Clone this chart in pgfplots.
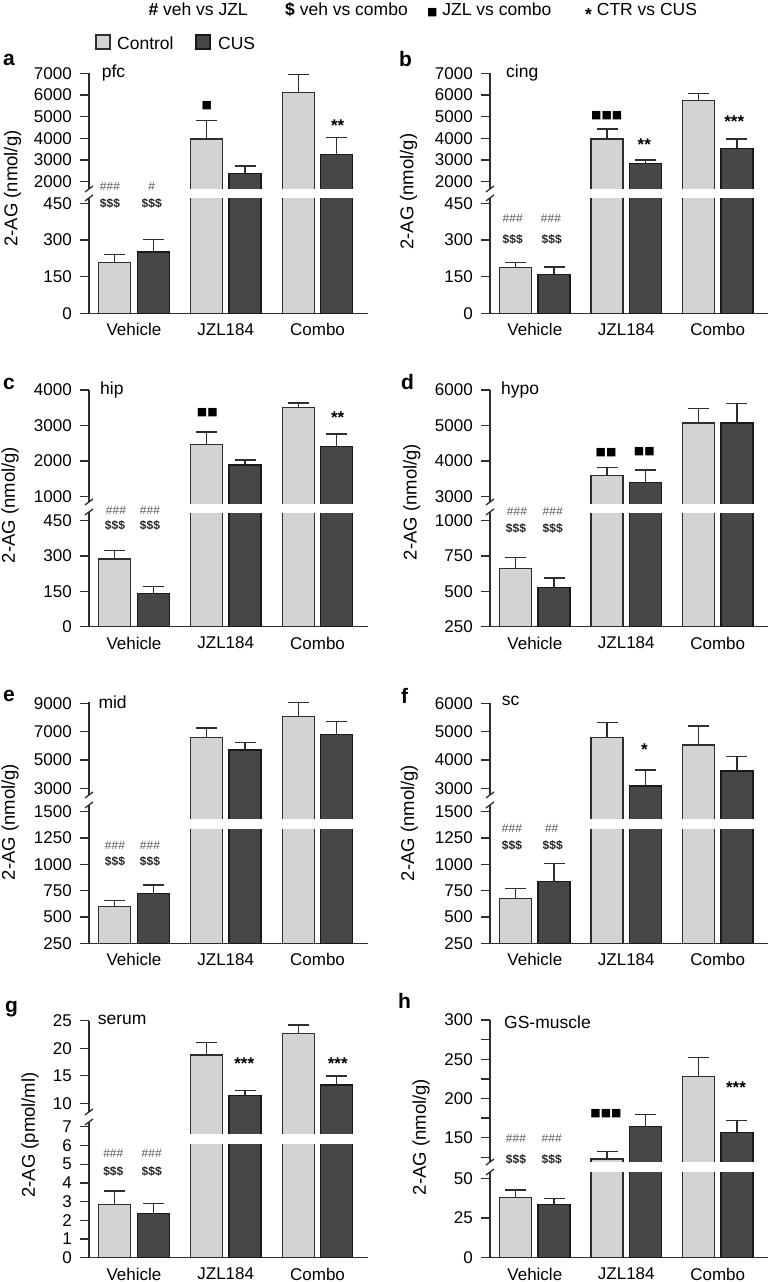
\documentclass[border=0pt]{standalone}
\usepackage{fontspec}
\setmainfont{Liberation Sans}
\newfontfamily\dejavu{DejaVu Sans}
\usepackage{pgfplots}
\usepackage{pgfplotstable}
\pgfplotsset{compat=1.18}
\definecolor{ctrl}{HTML}{D3D3D3}
\definecolor{cus}{HTML}{474747}
\definecolor{axc}{HTML}{2E2E2E}
\newcommand\fs[1]{\fontsize{#1}{#1}\selectfont}

% x ctrl ctrl-err cus cus-err
\pgfplotstableread{
x ctrl ce cus ue
0 208 33 251 52
1 3970 845 2388 335
2 6107 850 3264 766
}\tabA
\pgfplotstableread{
x ctrl ce cus ue
0 188 19 160 30
1 3970 450 2831 170
2 5756 305 3541 430
}\tabB
\pgfplotstableread{
x ctrl ce cus ue
0 287 36 142 28
1 2465 350 1891 145
2 3500 130 2417 341
}\tabC
\pgfplotstableread{
x ctrl ce cus ue
0 660 81 526 69
1 3600 217 3400 347
2 5070 416 5070 557
}\tabD
\pgfplotstableread{
x ctrl ce cus ue
0 597 61 725 78
1 6572 684 5703 516
2 8054 1016 6812 889
}\tabE
\pgfplotstableread{
x ctrl ce cus ue
0 673 95 835 175
1 4800 516 3081 565
2 4528 671 3611 505
}\tabF
\pgfplotstableread{
x ctrl ce cus ue
0 2.85 0.71 2.37 0.53
1 18.77 2.24 11.45 0.83
2 22.71 1.50 13.32 1.64
}\tabG
\pgfplotstableread{
x ctrl ce cus ue
0 37.8 4.8 33.6 3.6
1 122.9 9.8 164.0 15.8
2 227.7 24.3 156.9 14.8
}\tabH

\pgfplotsset{
  base/.style={scale only axis, xmin=-0.49, xmax=2.55, ybar=6.5pt, bar width=32pt,
    axis line style={line width=1.3pt, draw=axc},
    tick style={line width=1.3pt, draw=axc},
    tick align=outside, major tick length=9pt, minor tick length=9pt,
    yticklabel style={font=\fs{17}, inner sep=0pt, xshift=-8pt},
    /pgf/number format/1000 sep={},
    /pgf/number format/assume math mode=true},
  lower/.style={base, axis x line*=bottom, axis y line*=left, xtick={0,1,2},
    xticklabels={Vehicle,JZL184,Combo}, xtick style={draw=none},
    xticklabel style={font=\fs{17}, inner sep=0pt, yshift=-1pt}},
  upper/.style={base, axis x line=none, axis y line*=left, xtick=\empty,
    restrict x to domain=0.5:2.5},
  lc/.style={width=279pt, anchor=south west},
  rc/.style={width=278pt, anchor=south west},
  ebar/.style={error bars/.cd, y dir=plus, y explicit,
    error bar style={line width=1.4pt, draw=axc},
    error mark options={rotate=90, line width=1.4pt, draw=axc, mark size=10.5pt}},
  ctrlbar/.style={fill=ctrl, draw=axc, line width=1.2pt, ebar},
  cusbar/.style={fill=cus, draw=black!90, line width=1.2pt, ebar},
}
\newcommand\bars[1]{%
  \addplot[ctrlbar] table[x=x, y=ctrl, y error plus=ce]{#1};
  \addplot[cusbar] table[x=x, y=cus, y error plus=ue]{#1};}

\begin{document}
\begin{tikzpicture}
\path[use as bounding box] (0,0) rectangle (772pt,1282pt);

% ---------- a ----------
\begin{axis}[lower, lc, at={(89pt,968.7pt)}, height=119.8pt, ymin=0, ymax=490.1, ytick={0,150,300,450}]
\bars{\tabA}
\end{axis}
\begin{axis}[upper, lc, at={(89pt,1088.5pt)}, height=120.2pt, ymin=1452.4, ymax=7000, ytick={2000,3000,4000,5000,6000,7000}]
\bars{\tabA}
\end{axis}
% ---------- b ----------
\begin{axis}[lower, rc, at={(490pt,968.7pt)}, height=119.8pt, ymin=0, ymax=490.1, ytick={0,150,300,450}]
\bars{\tabB}
\end{axis}
\begin{axis}[upper, rc, at={(490pt,1088.5pt)}, height=120.2pt, ymin=1452.4, ymax=7000, ytick={2000,3000,4000,5000,6000,7000}]
\bars{\tabB}
\end{axis}
% ---------- c ----------
\begin{axis}[lower, lc, at={(89pt,655.3pt)}, height=118.2pt, ymin=0, ymax=501.8, ytick={0,150,300,450}]
\bars{\tabC}
\end{axis}
\begin{axis}[upper, lc, at={(89pt,773.5pt)}, height=118.5pt, ymin=668, ymax=4000, ytick={1000,2000,3000,4000}]
\bars{\tabC}
\end{axis}
% ---------- d ----------
\begin{axis}[lower, rc, at={(490pt,655.3pt)}, height=118.2pt, ymin=250, ymax=1086.3, ytick={250,500,750,1000}]
\bars{\tabD}
\end{axis}
\begin{axis}[upper, rc, at={(490pt,773.5pt)}, height=118.5pt, ymin=2668, ymax=6000, ytick={3000,4000,5000,6000}]
\bars{\tabD}
\end{axis}
% ---------- e ----------
\begin{axis}[lower, lc, at={(89pt,338.7pt)}, height=143.3pt, ymin=250, ymax=1610.5, ytick={250,500,750,1000,1250,1500}]
\bars{\tabE}
\end{axis}
\begin{axis}[upper, lc, at={(89pt,458pt)}, height=121.76pt, ymin=480, ymax=9075, ytick={3000,5000,7000,9000}]
\bars{\tabE}
\end{axis}
% ---------- f ----------
\begin{axis}[lower, rc, at={(490pt,338.7pt)}, height=143.3pt, ymin=250, ymax=1610.5, ytick={250,500,750,1000,1250,1500}]
\bars{\tabF}
\end{axis}
\begin{axis}[upper, rc, at={(490pt,458pt)}, height=120.7pt, ymin=1740, ymax=6000, ytick={3000,4000,5000,6000}]
\bars{\tabF}
\end{axis}
% ---------- g ----------
\begin{axis}[lower, lc, at={(89pt,24.3pt)}, height=141.2pt, ymin=0, ymax=7.547, ytick={0,1,2,3,4,5,6,7}]
\bars{\tabG}
\end{axis}
\begin{axis}[upper, lc, at={(89pt,142.85pt)}, height=118.45pt, ymin=3.49, ymax=25, ytick={10,15,20,25}]
\bars{\tabG}
\end{axis}
% ---------- h ----------
\begin{axis}[lower, rc, at={(490pt,24.3pt)}, height=90.7pt, ymin=0, ymax=57.1, ytick={0,25,50}]
\bars{\tabH}
\end{axis}
\begin{axis}[upper, rc, at={(490pt,115pt)}, height=147pt, ymin=112.7, ymax=300, ytick={150,200,250,300}, minor ytick={125,175,225,275}]
\bars{\tabH}
\end{axis}

% ---------- decorations, text (image coordinates, y downward) ----------
\begin{scope}[x=1pt, y=-1pt, shift={(0pt,1282pt)}]
% white gaps across the broken bars
\fill[white] (186,189) rectangle (357,198);
\fill[white] (587,189) rectangle (757,198);
\fill[white] (186,503.7) rectangle (357,513.3);
\fill[white] (587,503.7) rectangle (757,513.3);
\fill[white] (186,819) rectangle (357,829);
\fill[white] (587,819) rectangle (757,829);
\fill[white] (186,1134) rectangle (357,1144.3);
\fill[white] (587,1162.3) rectangle (757,1172.3);
% axis breaks
\foreach \xx/\ya/\yb in {89/189/198, 490/189/198, 89/502/512, 490/502/512, 89/795/805, 490/795/805, 89/1112/1122, 490/1162/1172}{
  \fill[white] (\xx-3,\ya) rectangle (\xx+3,\yb);
  \draw[axc, line width=1.3pt] (\xx-4,\ya+3) -- (\xx+4,\ya-3);
  \draw[axc, line width=1.3pt] (\xx-4,\yb+3) -- (\xx+4,\yb-3);
}
% top legend
\node[anchor=base west, font=\fs{17.5}, inner sep=0pt] at (148.3,16) {\textbf{\#} veh vs JZL};
\node[anchor=base west, font=\fs{17.5}, inner sep=0pt] at (285,16) {\textbf{\$} veh vs combo};
\node[anchor=base west, font=\fs{17.5}, inner sep=0pt] at (427,16) {{\dejavu\fs{11}■} JZL vs combo};
\node[anchor=base west, font=\fs{17.5}, inner sep=0pt] at (585,16) {\raisebox{-0.25em}{\bfseries *} CTR vs CUS};
\draw[fill=ctrl, draw=axc, line width=1.2pt] (96,35) rectangle (110,49);
\node[anchor=base west, font=\fs{17.5}, inner sep=0pt] at (117,49.3) {Control};
\draw[fill=cus, draw=black!90, line width=1.2pt] (196,35) rectangle (210,49);
\node[anchor=base west, font=\fs{17.5}, inner sep=0pt] at (218,49.3) {CUS};
% panel letters
\foreach \xx/\yy/\ll in {3/66/a, 399/66.7/b, 3/390/c, 401/390/d, 3/701.7/e, 401/703.3/f, 5/1013/g, 398/1008.3/h}{
  \node[anchor=base west, font=\fs{21}\bfseries, inner sep=0pt] at (\xx,\yy) {\ll};
}
% region labels
\foreach \xx/\yy/\ll in {101.7/77.7/pfc, 506/77.7/cing, 100/394.3/hip, 501/394.3/hypo, 98.3/709/mid, 501.7/705.7/sc, 97.7/1025/serum, 504/1028.3/GS-muscle}{
  \node[anchor=base west, font=\fs{17.5}, inner sep=0pt] at (\xx,\yy) {\ll};
}
% y labels
\foreach \xx/\yy in {12.5/188.5, 408.5/191.7, 10/505, 411.8/502, 10/822, 409.3/823, 421/1137}{
  \node[rotate=90, font=\fs{18.5}, inner sep=0pt] at (\xx,\yy) {2-AG (nmol/g)};
}
\node[rotate=90, font=\fs{18.5}, inner sep=0pt] at (30,1135) {2-AG (pmol/ml)};
% hashes
\foreach \xx/\yy/\ll in {110/186.7/\#\#\#, 151.7/186.7/\#, 512.7/218.3/\#\#\#, 551/218.3/\#\#\#,
  116/510/\#\#\#, 150/510/\#\#\#, 517/511.7/\#\#\#, 552.7/511.7/\#\#\#,
  115/845/\#\#\#, 150/845/\#\#\#, 512/828.3/\#\#\#, 551.7/828.3/\#\#,
  113.3/1153.3/\#\#\#, 151.7/1153.3/\#\#\#, 516/1138.3/\#\#\#, 551.7/1138.3/\#\#\#}{
  \node[font=\fs{12}, text=black!65, inner sep=0pt] at (\xx,\yy) {\ll};
}
% dollars
\foreach \xx/\yy in {110/203.3, 151.7/203.3, 512.7/240, 551.7/240, 115/526, 150/526, 516/529, 552.7/529,
  115/861, 150/861, 512/845, 552.7/845, 113.3/1171.7, 151.7/1171.7, 516/1159, 551.7/1159}{
  \node[font=\fs{12}\bfseries, text=black!85, inner sep=0pt] at (\xx,\yy) {\$\$\$};
}
% squares
\foreach \xx/\yy/\ll in {206.7/106/■, 606.7/116/■■■, 207.3/412.7/■■, 606/452.7/■■, 644.3/451.7/■■, 606/1114/■■■}{
  \node[font=\dejavu\fs{11}, inner sep=0pt] at (\xx,\yy) {\ll};
}
% asterisks
\foreach \xx/\yy/\ll in {337.7/121.7/**, 644.3/141/**, 734.3/117.7/***, 337.7/414/**, 644.3/746/*,
  244.3/1059.3/***, 337.7/1059.3/***, 736/1084/***}{
  \node[anchor=base, font=\fs{17}\bfseries, inner sep=0pt] at (\xx,\yy+9.8) {\ll};
}
\end{scope}
\end{tikzpicture}
\end{document}
